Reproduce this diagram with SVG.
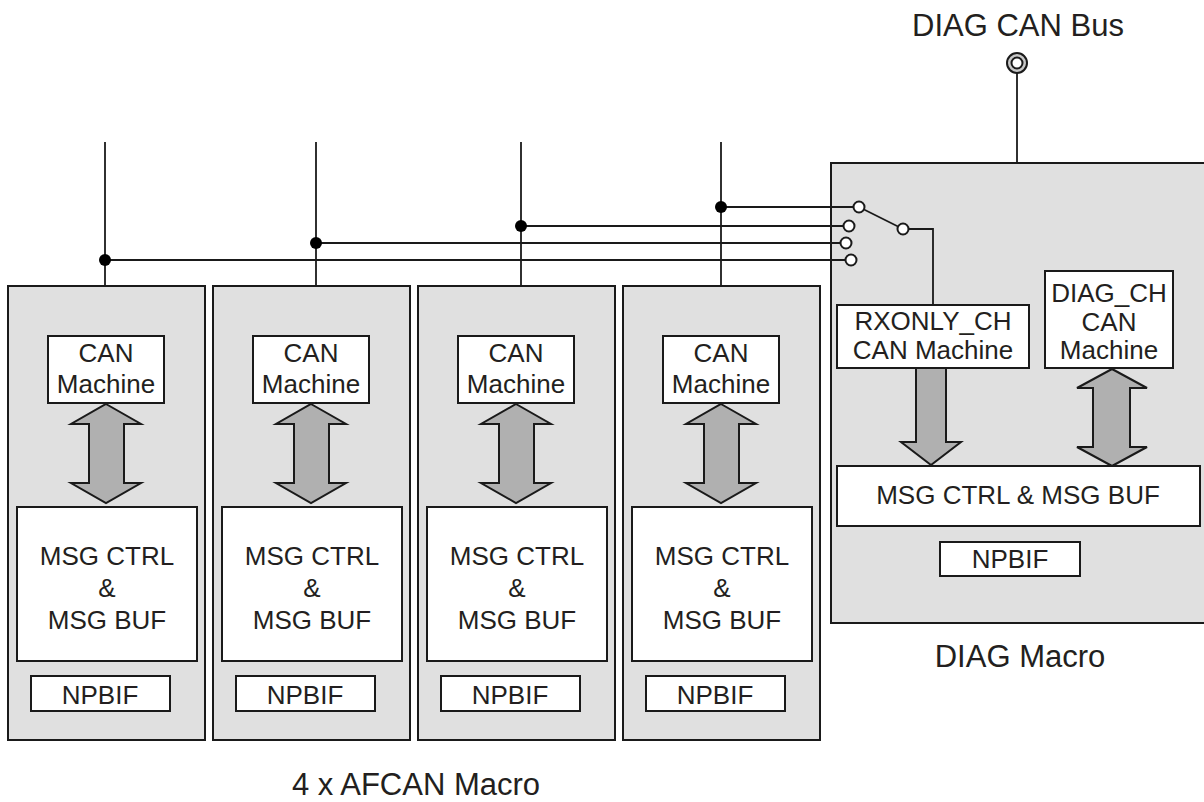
<svg xmlns="http://www.w3.org/2000/svg" width="1204" height="802" viewBox="0 0 1204 802">
<style>
  .macro { fill: #e0e0e0; stroke: #1a1a1a; stroke-width: 2; }
  .blk { fill: #ffffff; stroke: #1a1a1a; stroke-width: 2; }
  .arr { fill: #b0b0b0; stroke: #1a1a1a; stroke-width: 2; stroke-linejoin: miter; }
  .t { font-family: "Liberation Sans", Arial, sans-serif; font-size: 26px; fill: #231f20; text-anchor: middle; }
  .lbl { font-family: "Liberation Sans", Arial, sans-serif; font-size: 31px; fill: #231f20; text-anchor: middle; }
  .wire { fill: none; stroke: #1a1a1a; stroke-width: 1.8; }
  .dot { fill: #000000; }
  .sw { fill: #ffffff; stroke: #1a1a1a; stroke-width: 2; }
</style>
<defs>
  <g id="afcan">
    <rect class="macro" x="8" y="286" width="197" height="454"/>
    <rect class="blk" x="48" y="336" width="116" height="67"/>
    <text class="t" x="106" y="362">CAN</text>
    <text class="t" x="106" y="393">Machine</text>
    <path class="arr" d="M106,404 L141,424 L124,424 L124,483 L141,483 L106,503 L71,483 L89,483 L89,424 L71,424 Z"/>
    <rect class="blk" x="17" y="507" width="180" height="154"/>
    <text class="t" x="107" y="565">MSG CTRL</text>
    <text class="t" x="107" y="597">&amp;</text>
    <text class="t" x="107" y="629">MSG BUF</text>
    <rect class="blk" x="31" y="676" width="139" height="35"/>
    <text class="t" x="100" y="704">NPBIF</text>
  </g>
</defs>

<g id="afcan1"><use href="#afcan"/></g>
<g id="afcan2"><use href="#afcan" transform="translate(205,0)"/></g>
<g id="afcan3"><use href="#afcan" transform="translate(410,0)"/></g>
<g id="afcan4"><use href="#afcan" transform="translate(615,0)"/></g>

<g id="diag">
  <rect class="macro" x="831" y="163" width="385" height="460"/>
  <rect class="blk" x="837" y="305" width="192" height="63"/>
  <text class="t" x="933" y="330">RXONLY_CH</text>
  <text class="t" x="933" y="359">CAN Machine</text>
  <rect class="blk" x="1045" y="271" width="128" height="97"/>
  <text class="t" x="1109" y="302">DIAG_CH</text>
  <text class="t" x="1109" y="331">CAN</text>
  <text class="t" x="1109" y="359">Machine</text>
  <path class="arr" d="M916,368 L946,368 L946,442 L961,442 L931,465 L901,442 L916,442 Z"/>
  <path class="arr" d="M1112,369 L1147,388 L1130,388 L1130,447 L1147,447 L1112,466 L1077,447 L1093,447 L1093,388 L1077,388 Z"/>
  <rect class="blk" x="837" y="466" width="363" height="60"/>
  <text class="t" x="1018" y="504">MSG CTRL &amp; MSG BUF</text>
  <rect class="blk" x="940" y="542" width="140" height="34"/>
  <text class="t" x="1010" y="568">NPBIF</text>
</g>

<g id="connectors">
  <line class="wire" x1="105" y1="142" x2="105" y2="286"/>
  <line class="wire" x1="316" y1="142" x2="316" y2="286"/>
  <line class="wire" x1="521" y1="142" x2="521" y2="286"/>
  <line class="wire" x1="721" y1="142" x2="721" y2="286"/>
  <line class="wire" x1="105" y1="260" x2="851" y2="260"/>
  <line class="wire" x1="316" y1="243" x2="846" y2="243"/>
  <line class="wire" x1="521" y1="226" x2="848" y2="226"/>
  <line class="wire" x1="721" y1="207" x2="859" y2="207"/>
  <circle class="dot" cx="105" cy="260" r="6"/>
  <circle class="dot" cx="316" cy="243" r="6"/>
  <circle class="dot" cx="521" cy="226" r="6"/>
  <circle class="dot" cx="721" cy="207" r="6"/>
  <line class="wire" x1="859" y1="207" x2="903" y2="229"/>
  <polyline class="wire" points="903,229 933,229 933,305"/>
  <circle class="sw" cx="859" cy="207" r="5.5"/>
  <circle class="sw" cx="849" cy="226" r="5.5"/>
  <circle class="sw" cx="846" cy="243" r="5.5"/>
  <circle class="sw" cx="851" cy="260" r="5.5"/>
  <circle class="sw" cx="903" cy="229" r="5.5"/>
  <line class="wire" x1="1017" y1="73" x2="1017" y2="163"/>
</g>

<g id="bus-terminal">
  <circle cx="1017" cy="63" r="10" fill="#c8c8c8" stroke="#1a1a1a" stroke-width="2"/>
  <circle cx="1017" cy="63" r="5.5" fill="#ffffff" stroke="#1a1a1a" stroke-width="2"/>
</g>

<g id="labels">
  <text class="lbl" x="1018" y="36">DIAG CAN Bus</text>
  <text class="lbl" x="1020" y="667">DIAG Macro</text>
  <text class="lbl" x="416" y="795">4 x AFCAN Macro</text>
</g>
</svg>
